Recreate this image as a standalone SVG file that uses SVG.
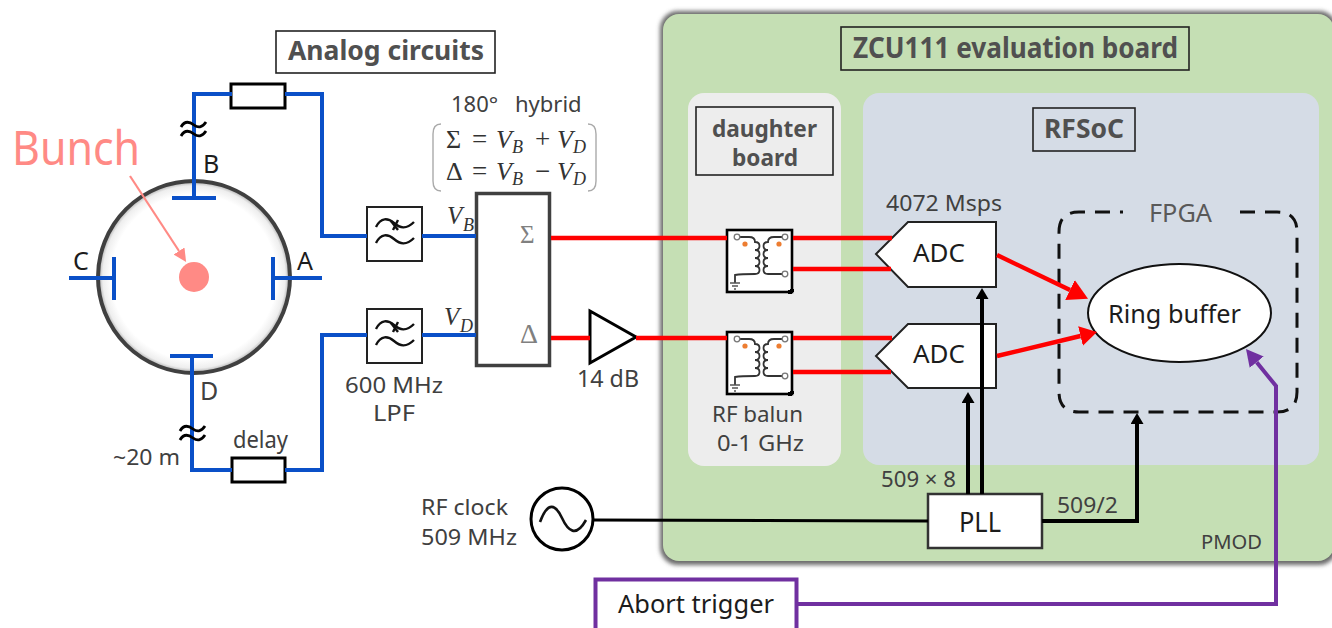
<svg xmlns="http://www.w3.org/2000/svg" xmlns:xlink="http://www.w3.org/1999/xlink" width="1332" height="628" viewBox="0 0 1332 628">
<style>
text{font-family:"Noto Sans","Open Sans","Liberation Sans",sans-serif;fill:#404040;font-size:23px}
.dark{fill:#1c1c1c}
.bold{font-weight:700;fill:#505050}
.math{font-family:"Liberation Serif","DejaVu Serif",serif;fill:#333;font-size:26px}
.i{font-style:italic}
.sub{font-size:18px;font-style:italic}
.op{font-size:27px}
.lab{fill:none;stroke:#222;stroke-width:1.6}
.blue{fill:none;stroke:#0a50c8;stroke-width:4}
.red{fill:none;stroke:#ff0000;stroke-width:4.4}
.blk{fill:none;stroke:#000;stroke-width:4}
.clk{fill:none;stroke:#000;stroke-width:3.2}
.pur{fill:none;stroke:#7030a0;stroke-width:4}
.wave{fill:none;stroke:#111;stroke-width:2.4}
.coil{fill:none;stroke:#333;stroke-width:1.8}
</style>
<defs>
<filter id="blur" x="-5%" y="-5%" width="110%" height="110%"><feGaussianBlur stdDeviation="2"/></filter>
<radialGradient id="pipe" cx="50%" cy="50%" r="50%"><stop offset="0.86" stop-color="#fff"/><stop offset="0.95" stop-color="#eee"/><stop offset="1" stop-color="#a8a8a8"/></radialGradient>
<marker id="ah-red" markerUnits="userSpaceOnUse" markerWidth="22" markerHeight="24" refX="0" refY="11" orient="auto"><path d="M0 0L20 11L0 22Z" fill="#f00"/></marker>
<marker id="ah-red2" markerUnits="userSpaceOnUse" markerWidth="20" markerHeight="22" refX="0" refY="10" orient="auto"><path d="M0 0L17 10L0 20Z" fill="#f00"/></marker>
<marker id="ah-blk" markerUnits="userSpaceOnUse" markerWidth="13" markerHeight="14" refX="0" refY="6.5" orient="auto"><path d="M0 0L11 6.5L0 13Z" fill="#000"/></marker>
<marker id="ah-pur" markerUnits="userSpaceOnUse" markerWidth="18" markerHeight="20" refX="0" refY="9" orient="auto"><path d="M0 0L17 9L0 18Z" fill="#7030a0"/></marker>
<marker id="ah-pink" markerUnits="userSpaceOnUse" markerWidth="14" markerHeight="14" refX="0" refY="6.5" orient="auto"><path d="M0 0L13 6.5L0 13Z" fill="#ff8a85"/></marker>
<g id="filt">
<rect x="0" y="0" width="55" height="54" fill="#fff" stroke="#222" stroke-width="2"/>
<path class="wave" d="M9 20C14 10 21 11 27 16S39 23 47 15"/>
<path class="wave" d="M9 36C14 26 21 27 27 32S39 39 47 31"/>
<path class="wave" d="M24 14L31 23M31 13L26 23"/>
</g>
<g id="balun">
<rect x="0" y="0" width="65" height="62" fill="#fff" stroke="#000" stroke-width="2.6"/>
<path d="M65 62V59M65 62H61" stroke="#000" stroke-width="4" fill="none"/>
<path class="coil" d="M13 7H22Q28 7 28 12C34 12 34 20 28 20C34 20 34 28 28 28C34 28 34 36 28 36C34 36 34 44 28 44Q14 44 8 45V53"/>
<path class="coil" d="M55 7H47Q41 7 41 12C35 12 35 20 41 20C35 20 35 28 41 28C35 28 35 36 41 36C35 36 35 44 41 44H55"/>
<circle cx="10" cy="7" r="2.8" fill="#fff" stroke="#777" stroke-width="1.3"/>
<circle cx="58" cy="7" r="2.8" fill="#fff" stroke="#777" stroke-width="1.3"/>
<circle cx="58" cy="44" r="2.8" fill="#fff" stroke="#777" stroke-width="1.3"/>
<circle cx="18" cy="14" r="2.6" fill="#ed7d31"/>
<circle cx="52" cy="14" r="2.6" fill="#ed7d31"/>
<path d="M3 53H13M5 56H11M7 59H9" stroke="#555" stroke-width="1.4" fill="none"/>
</g>
</defs>

<rect width="1332" height="628" fill="#fff"/>

<g id="board">
<rect x="660" y="11" width="677" height="554" rx="18" fill="#6a6a6a" filter="url(#blur)"/>
<rect x="663" y="14" width="671" height="547" rx="16" fill="#c5dfb4"/>
<rect class="lab" x="841" y="27" width="348" height="43"/>
<text class="bold" x="853" y="58" textLength="325" lengthAdjust="spacingAndGlyphs" style="font-size:28px">ZCU111 evaluation board</text>
<text x="1201" y="549" textLength="61" lengthAdjust="spacingAndGlyphs" style="font-size:20px">PMOD</text>
</g>
<g id="daughter-board">
<rect x="688" y="93" width="153" height="373" rx="16" fill="#ededed"/>
<rect class="lab" x="696" y="107" width="137" height="68"/>
<text class="bold" x="712" y="137" textLength="105" lengthAdjust="spacingAndGlyphs" style="font-size:23px">daughter</text>
<text class="bold" x="732" y="166" textLength="66" lengthAdjust="spacingAndGlyphs" style="font-size:23px">board</text>
<text x="712" y="422" textLength="91" lengthAdjust="spacingAndGlyphs" style="font-size:21px">RF balun</text>
<text x="717" y="451" textLength="87" lengthAdjust="spacingAndGlyphs" style="font-size:21px">0-1 GHz</text>
</g>
<g id="rfsoc">
<rect x="863" y="93" width="456" height="372" rx="16" fill="#d5dce6"/>
<rect class="lab" x="1033" y="108" width="102" height="43"/>
<text class="bold" x="1044" y="138" textLength="80" lengthAdjust="spacingAndGlyphs" style="font-size:26px">RFSoC</text>
<text x="886" y="211" textLength="116" lengthAdjust="spacingAndGlyphs" style="font-size:22px">4072 Msps</text>
<text x="881" y="487" textLength="75" lengthAdjust="spacingAndGlyphs" style="font-size:22px">509 × 8</text>
<text x="1057" y="513" textLength="61" lengthAdjust="spacingAndGlyphs" style="font-size:22px">509/2</text>
</g>
<g id="fpga">
<path d="M1240 212H1277Q1297 212 1297 232V392Q1297 412 1277 412H1079Q1059 412 1059 392V232Q1059 212 1079 212H1123" fill="none" stroke="#111" stroke-width="3" stroke-dasharray="15 10"/>
<text x="1149" y="222" textLength="63" lengthAdjust="spacingAndGlyphs" style="fill:#595959;font-size:25px">FPGA</text>
</g>
<g id="analog-title">
<rect x="276" y="31" width="219" height="42" fill="#fff" stroke="#222" stroke-width="1.6"/>
<text class="bold" x="288" y="60" textLength="196" lengthAdjust="spacingAndGlyphs" style="font-size:27px">Analog circuits</text>
</g>
<g id="pipe-node">
<circle cx="194" cy="277" r="96" fill="url(#pipe)" stroke="#404040" stroke-width="4"/>
<circle cx="194" cy="277" r="15" fill="#ff8a85"/>
<text class="dark" x="203" y="173" style="font-size:25px">B</text>
<text class="dark" x="297" y="270" style="font-size:25px">A</text>
<text class="dark" x="73" y="270" style="font-size:25px">C</text>
<text x="200" y="400" style="font-size:25px">D</text>
<text x="12" y="165" textLength="128" lengthAdjust="spacingAndGlyphs" style="fill:#ff8a85;font-size:47px">Bunch</text>
<text x="113" y="465" textLength="67" lengthAdjust="spacingAndGlyphs" style="font-size:21px">~20 m</text>
</g>
<g id="delay-top"><rect x="231" y="84" width="54" height="24" fill="#fff" stroke="#000" stroke-width="3"/></g>
<g id="delay-bottom">
<rect x="232" y="458" width="53" height="24" fill="#fff" stroke="#000" stroke-width="3"/>
<text x="233" y="448" textLength="55" lengthAdjust="spacingAndGlyphs">delay</text>
</g>
<g id="lpf-top"><use xlink:href="#filt" href="#filt" x="367" y="207"/></g>
<g id="lpf-bottom">
<use xlink:href="#filt" href="#filt" x="367" y="309"/>
<text x="345" y="393" textLength="98" lengthAdjust="spacingAndGlyphs" style="font-size:21px">600 MHz</text>
<text x="373" y="421" textLength="42" lengthAdjust="spacingAndGlyphs" style="font-size:21px">LPF</text>
</g>
<g id="hybrid">
<rect x="476.500" y="193.500" width="73" height="172" fill="#fff" stroke="#404040" stroke-width="3.500"/>
<text x="451" y="112" style="font-size:22px"><tspan x="451">180°</tspan><tspan x="515">hybrid</tspan></text>
<path d="M441 124Q433 124 433 134V181Q433 191 441 191M588 124Q596 124 596 134V181Q596 191 588 191" fill="none" stroke="#aaa" stroke-width="1.4"/>
<text class="math"><tspan x="446" y="148">Σ</tspan><tspan class="op" x="472" y="148">=</tspan><tspan class="i" x="496" y="148">V</tspan><tspan class="sub" x="512" y="153">B</tspan><tspan class="op" x="535" y="148">+</tspan><tspan class="i" x="557" y="148">V</tspan><tspan class="sub" x="573" y="153">D</tspan></text>
<text class="math"><tspan x="446" y="180">Δ</tspan><tspan class="op" x="472" y="180">=</tspan><tspan class="i" x="496" y="180">V</tspan><tspan class="sub" x="512" y="185">B</tspan><tspan class="op" x="535" y="180">−</tspan><tspan class="i" x="557" y="180">V</tspan><tspan class="sub" x="573" y="185">D</tspan></text>
<text class="math" style="font-size:25px"><tspan class="i" x="447" y="224">V</tspan></text>
<text class="sub math" x="463" y="231" style="font-size:18px">B</text>
<text class="math" style="font-size:25px"><tspan class="i" x="444" y="325">V</tspan></text>
<text class="sub math" x="460" y="332" style="font-size:18px">D</text>
<text x="520" y="243" style="font-family:'Liberation Serif',serif;fill:#808080;font-size:25px">Σ</text>
<text x="520" y="343" style="font-family:'Liberation Serif',serif;fill:#808080;font-size:28px">Δ</text>
</g>
<g id="amplifier">
<path d="M590 311V363L636 337Z" fill="#fff" stroke="#000" stroke-width="3"/>
<text x="577" y="387" textLength="62" lengthAdjust="spacingAndGlyphs">14 dB</text>
</g>
<g id="balun-top"><use xlink:href="#balun" href="#balun" x="727" y="230"/></g>
<g id="balun-bottom"><use xlink:href="#balun" href="#balun" x="727" y="332"/></g>
<g id="adc-top">
<path d="M876 254L908 222H996V287H908Z" fill="#fff" stroke="#222" stroke-width="2"/>
<text class="dark" x="913" y="262" textLength="52" lengthAdjust="spacingAndGlyphs" style="font-size:26px">ADC</text>
</g>
<g id="adc-bottom">
<path d="M876 356L908 324H996V388H908Z" fill="#fff" stroke="#222" stroke-width="2"/>
<text class="dark" x="913" y="363" textLength="52" lengthAdjust="spacingAndGlyphs" style="font-size:26px">ADC</text>
</g>
<g id="ring-buffer">
<ellipse cx="1179.500" cy="313" rx="91.500" ry="49" fill="#fff" stroke="#111" stroke-width="2"/>
<text class="dark" x="1108" y="323" textLength="133" lengthAdjust="spacingAndGlyphs" style="font-size:26px">Ring buffer</text>
</g>
<g id="pll">
<rect x="928" y="494" width="114" height="54" fill="#fff" stroke="#333" stroke-width="2.500"/>
<text class="dark" x="959" y="532" textLength="42" lengthAdjust="spacingAndGlyphs" style="font-size:28px">PLL</text>
</g>
<g id="rf-clock">
<circle cx="562" cy="519" r="31" fill="#fff" stroke="#000" stroke-width="3"/>
<path d="M540 522C548 500 556 505 562 518S576 538 586 520" fill="none" stroke="#111" stroke-width="2.600"/>
<text x="421" y="515" textLength="87" lengthAdjust="spacingAndGlyphs" style="font-size:22px">RF clock</text>
<text x="421" y="545" textLength="96" lengthAdjust="spacingAndGlyphs" style="font-size:22px">509 MHz</text>
</g>
<g id="abort-trigger">
<rect x="595.500" y="579.500" width="201" height="60" fill="#fff" stroke="#7030a0" stroke-width="4"/>
<text class="dark" x="618" y="613" textLength="156" lengthAdjust="spacingAndGlyphs" style="font-size:25px">Abort trigger</text>
</g>

<g id="connectors">
<path class="blue" d="M285 94H322V236H367M422 236H476M232 94H194V198M172 198H216"/>
<path class="blue" d="M285 470H322V335H367M422 335H476M232 470H192V356M170 356H213"/>
<path class="blue" d="M273 257V300M273 278H322M114 257V300M114 278H69"/>
<path d="M181 127C185 120 190 122 194 125S202 128 206 122M181 136C185 129 190 131 194 134S202 137 206 131" fill="none" stroke="#000" stroke-width="2.800"/>
<path d="M180 431C184 424 189 426 193 429S201 432 205 426M180 440C184 433 189 435 193 438S201 441 205 435" fill="none" stroke="#000" stroke-width="2.800"/>
<path d="M130 176L179 251" fill="none" stroke="#ff8a85" stroke-width="2.200" marker-end="url(#ah-pink)"/>
<path class="red" d="M551 238H727M793 238H892M793 269H891"/>
<path class="red" d="M551 338H590M636 338H727M793 338H892M793 372H891"/>
<path class="red" d="M997 255L1070 290" marker-end="url(#ah-red)"/>
<path class="red" d="M997 356L1080.500 336" marker-end="url(#ah-red2)"/>
<path class="clk" d="M593 520L928 521"/>
<path class="blk" d="M982 494V299" marker-end="url(#ah-blk)"/>
<path class="blk" d="M968 494V403" marker-end="url(#ah-blk)"/>
<path class="blk" d="M1042 521H1137V424" marker-end="url(#ah-blk)"/>
<path class="pur" d="M798 604H1276V386L1256.700 362.200" marker-end="url(#ah-pur)"/>
</g>
</svg>
